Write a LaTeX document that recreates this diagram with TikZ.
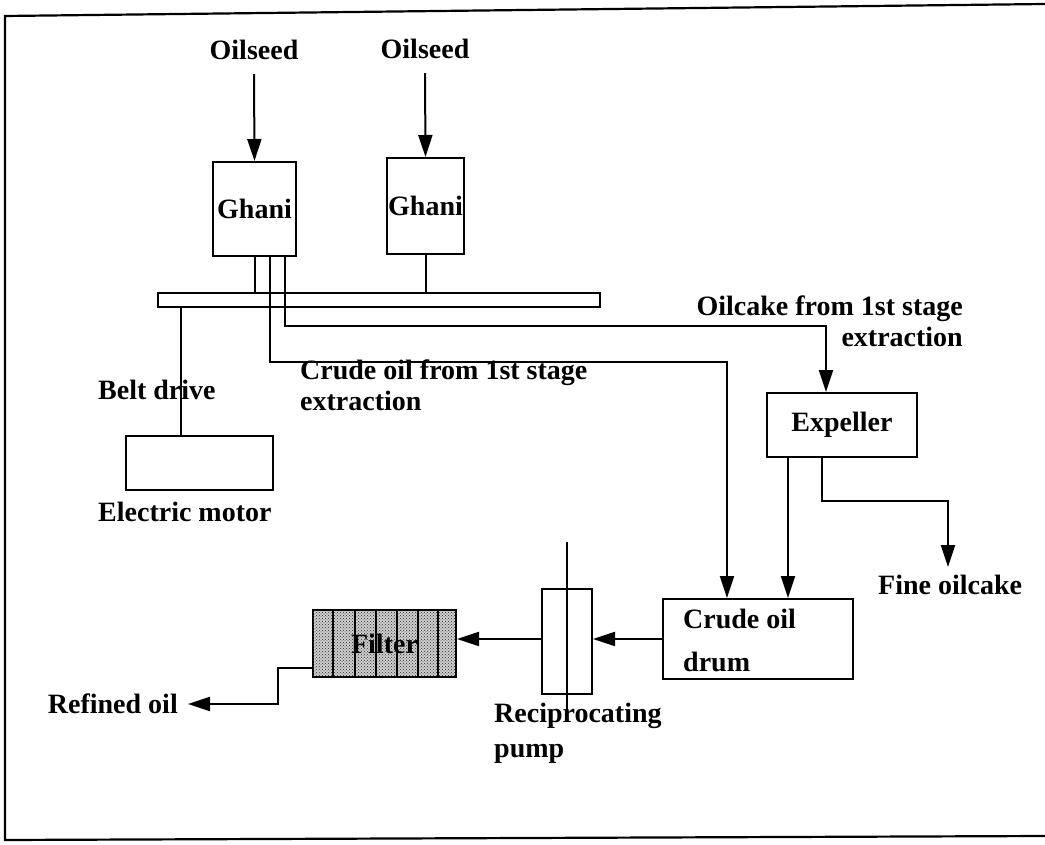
\documentclass[tikz,border=0pt]{standalone}
\usepackage{fontspec}
\setmainfont{Liberation Serif}
\usetikzlibrary{arrows.meta,patterns,calc}
\begin{document}
\begin{tikzpicture}[x=1pt,y=-1pt,
  every node/.style={font=\fontsize{28}{31}\selectfont\bfseries},
  box/.style={draw,line width=2pt,inner sep=0pt,minimum width=#1},
  lbl/.style={inner sep=0pt},
  ln/.style={line width=2pt},
  arr/.style={line width=2pt,-{Triangle[length=22pt,width=14pt]}}]
\useasboundingbox (0,0) rectangle (1045,845);
% frame
\draw[line width=2.2pt] (1045,4) -- (5,16) -- (5,840) -- (1045,836);

% boxes
\node[box=83pt,minimum height=94pt] (ghani1) at (254.5,209) {Ghani};
\node[box=77pt,minimum height=96pt] (ghani2) at (425.5,206) {Ghani};
\node[box=442pt,minimum height=14pt] (belt) at (379,300) {};
\node[box=147pt,minimum height=54pt] (motor) at (199.5,463) {};
\node[box=150pt,minimum height=64pt] (exp) at (842,425) {Expeller};
\node[box=190pt,minimum height=80pt] (drum) at (758,639) {};
\node[lbl,anchor=west,align=left] (drumtxt) at (683,640) {Crude oil\\[12pt]drum};
\node[box=50pt,minimum height=105pt] (pump) at (567,641.5) {};
\node[box=143pt,minimum height=67pt,fill=gray!40,
      postaction={pattern=crosshatch dots,pattern color=black!80}] (filter) at (384.5,643.5) {};
\foreach \xx in {333,355,376,397,418,438}
  \draw[line width=1.6pt] (\xx,610) -- (\xx,677);
\node[lbl] (filtertxt) at (filter) {Filter};

% pump rod
\coordinate (rodtop) at (567,542);
\coordinate (rodbot) at (567,713);
\draw[line width=1.6pt] (rodtop) -- (rodbot);

% text labels
\node[lbl] (seed1) at (254,50) {Oilseed};
\node[lbl] (seed2) at (425,49) {Oilseed};
\node[lbl,anchor=west] (beltlbl) at (98,390) {Belt drive};
\node[lbl,anchor=west] (motorlbl) at (98,512) {Electric motor};
\node[lbl,anchor=north west,align=left] (crudelbl) at (300,360) {Crude oil from 1st stage\\extraction};
\node[lbl,anchor=east,align=right] (cakelbl) at (963,321) {Oilcake from 1st stage\\extraction};
\node[lbl,anchor=west] (fine) at (878,585) {Fine oilcake};
\node[lbl,anchor=west,align=left] (recip) at (494,733) {Reciprocating\\[4pt]pump};
\node[lbl,anchor=east,inner xsep=10pt] (refined) at (188,704) {Refined oil};

% connectors
\draw[arr] ([yshift=-14pt]seed1.south) -- (ghani1.north);
\draw[arr] ([yshift=-14pt]seed2.south) -- (ghani2.north);
\draw[ln] (ghani1.south) -- (ghani1.south |- belt.north);
\draw[ln] (ghani2.south) -- (ghani2.south |- belt.north);
\coordinate (c3) at (181,0);
\draw[ln] (belt.south -| c3) -- (motor.north -| c3);

\coordinate (c1) at (727,362);
\coordinate (c1s) at (270,0);
\draw[arr] (ghani1.south -| c1s) |- (c1) -- (c1 |- drum.north);
\coordinate (c2) at (826,326);
\coordinate (c2s) at (285,0);
\draw[arr] (ghani1.south -| c2s) |- (c2) -- (c2 |- exp.north);

\coordinate (c4) at (788,0);
\draw[arr] (exp.south -| c4) -- (drum.north -| c4);
\coordinate (c6) at (822,501);
\coordinate (c6e) at (948,567);
\draw[arr] (exp.south -| c6) -- (c6) -| (c6e);

\draw[arr] (drum.west) -- (drum.west -| pump.east);
\draw[arr] (pump.west |- drum.west) -- (filter.east |- drum.west);
\coordinate (c7) at (278,668);
\draw[arr] (filter.west |- c7) -- (c7) |- (refined.east);
\end{tikzpicture}
\end{document}
